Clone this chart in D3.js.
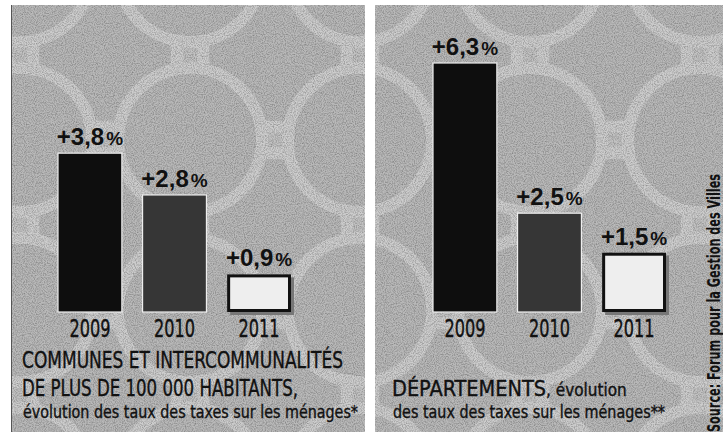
<!DOCTYPE html>
<html>
<head>
<meta charset="utf-8">
<script src="https://cdn.jsdelivr.net/npm/d3@7"></script>
<style>
  html, body { margin: 0; padding: 0; background: #ffffff; }
  svg { display: block; }
</style>
</head>
<body>
<div id="chart"></div>
<script>
// ---- data ----
const categories = ["2009", "2010", "2011"];
const communesValues = [3.8, 2.8, 0.9];
const departementsValues = [6.3, 2.5, 1.5];
const communesTitle = ["COMMUNES ET INTERCOMMUNALITÉS", "DE PLUS DE 100 000 HABITANTS,"];
const communesSubtitle = "évolution des taux des taxes sur les ménages*";
const departementsTitle = "DÉPARTEMENTS";
const departementsTitleTail = ", évolution";
const departementsSubtitle = "des taux des taxes sur les ménages**";
const sourceText = "Source: Forum pour la Gestion des Villes";

// ---- setup ----
const W = 723, H = 432;
const FONT = "'Liberation Sans Narrow', 'DejaVu Sans Condensed', 'DejaVu Sans', sans-serif";
const barFills = ["#0e0e0e", "#363636", "#eeeeee"];

const svg = d3.select("#chart").append("svg")
  .attr("width", W).attr("height", H)
  .attr("viewBox", `0 0 ${W} ${H}`);

const defs = svg.append("defs");
// halftone-like grain
const f = defs.append("filter").attr("id", "grain").attr("x", 0).attr("y", 0).attr("width", "100%").attr("height", "100%");
f.append("feTurbulence").attr("type", "fractalNoise").attr("baseFrequency", 0.9).attr("numOctaves", 2).attr("seed", 3).attr("result", "n");
f.append("feColorMatrix").attr("in", "n").attr("type", "matrix")
  .attr("values", "0 0 0 0 0  0 0 0 0 0  0 0 0 0 0  0 0 0 1.6 -0.6").attr("result", "a");
f.append("feComposite").attr("in", "a").attr("in2", "SourceGraphic").attr("operator", "in");

// faint circle motif pattern
const pat = defs.append("pattern").attr("id", "circles").attr("patternUnits", "userSpaceOnUse")
  .attr("width", 170).attr("height", 170).attr("x", 20).attr("y", -30);
pat.append("rect").attr("width", 170).attr("height", 170).attr("fill", "#c2c2c2");
[[85, 85], [0, 0], [170, 0], [0, 170], [170, 170]].forEach(([cx, cy]) => {
  pat.append("circle").attr("cx", cx).attr("cy", cy).attr("r", 72)
    .attr("fill", "#b9b9b9").attr("stroke", "#cdcdcd").attr("stroke-width", 12);
});

function panel(x0, x1) {
  const g = svg.append("g");
  g.append("rect").attr("x", x0).attr("y", 5).attr("width", x1 - x0).attr("height", H - 5)
    .attr("fill", "url(#circles)");
  g.append("rect").attr("x", x0).attr("y", 5).attr("width", x1 - x0).attr("height", H - 5)
    .attr("fill", "#555").attr("filter", "url(#grain)").attr("opacity", 0.35);
  return g;
}
panel(11, 365);
panel(375, 723);
svg.append("line").attr("x1", 11.5).attr("x2", 11.5).attr("y1", 5).attr("y2", H)
  .attr("stroke", "#555").attr("stroke-width", 1);

const fmt = v => "+" + d3.format(".1f")(v).replace(".", ",");

function drawBars(values, xRange, yTop, vmax) {
  const x = d3.scaleBand().domain(categories).range(xRange).paddingInner(0.245).paddingOuter(0);
  const y = d3.scaleLinear().domain([0, vmax]).range([312, yTop]);
  const g = svg.append("g");

  categories.forEach((c, i) => {
    const v = values[i];
    const bx = x(c), bw = x.bandwidth(), by = y(v), bh = y(0) - y(v);
    if (i === 2) {
      g.append("rect").attr("x", bx + 3).attr("y", by + 3).attr("width", bw).attr("height", bh)
        .attr("fill", "#777");
      g.append("rect").attr("x", bx + 1.5).attr("y", by + 1.5).attr("width", bw - 3).attr("height", bh - 3)
        .attr("fill", barFills[i]).attr("stroke", "#111").attr("stroke-width", 3);
    } else {
      g.append("rect").attr("x", bx).attr("y", by).attr("width", bw).attr("height", bh)
        .attr("fill", barFills[i]).attr("stroke", "#eeeeee").attr("stroke-width", 1.2);
    }
    const t = g.append("text")
      .attr("x", bx + bw / 2).attr("y", by - 8)
      .attr("text-anchor", "middle")
      .attr("font-family", "'Liberation Sans', 'DejaVu Sans', sans-serif")
      .attr("font-weight", "bold").attr("fill", "#111");
    t.append("tspan").attr("font-size", 24).text(fmt(v));
    t.append("tspan").attr("font-size", 19).attr("dx", 2).text("%");

    g.append("text")
      .attr("x", bx + bw / 2).attr("y", 337)
      .attr("text-anchor", "middle")
      .attr("font-family", FONT).attr("font-stretch", "condensed")
      .attr("font-size", 25).attr("fill", "#111")
      .attr("stroke", "#111").attr("stroke-width", 0.4)
      .attr("textLength", 41).attr("lengthAdjust", "spacingAndGlyphs")
      .text(c);
  });
}

drawBars(communesValues, [58, 291], 312 - 41.8 * 4, 4);
drawBars(departementsValues, [433, 666], 63, 6.3);

// ---- titles ----
function label(x, y, size, text, len) {
  return svg.append("text").attr("x", x).attr("y", y)
    .attr("font-family", FONT).attr("font-stretch", "condensed")
    .attr("font-size", size).attr("fill", "#111")
    .attr("stroke", "#111").attr("stroke-width", 0.35)
    .attr("textLength", len).attr("lengthAdjust", "spacingAndGlyphs")
    .text(text);
}
label(22, 368, 23, communesTitle[0], 321);
label(22, 396, 23, communesTitle[1], 276);
label(23, 418, 17, communesSubtitle, 335);

const dt = svg.append("text").attr("x", 392).attr("y", 396)
  .attr("font-family", FONT).attr("font-stretch", "condensed")
  .attr("fill", "#111").attr("stroke", "#111").attr("stroke-width", 0.35);
dt.append("tspan").attr("font-size", 21.5).text(departementsTitle);
dt.append("tspan").attr("font-size", 17).text(departementsTitleTail);
label(393, 418, 17, departementsSubtitle, 272);

// ---- source ----
svg.append("text")
  .attr("transform", "translate(720,432) rotate(-90)")
  .attr("font-family", FONT).attr("font-stretch", "condensed")
  .attr("font-size", 17).attr("font-weight", "bold").attr("fill", "#111")
  .attr("textLength", 258).attr("lengthAdjust", "spacingAndGlyphs")
  .text(sourceText);
</script>
</body>
</html>
